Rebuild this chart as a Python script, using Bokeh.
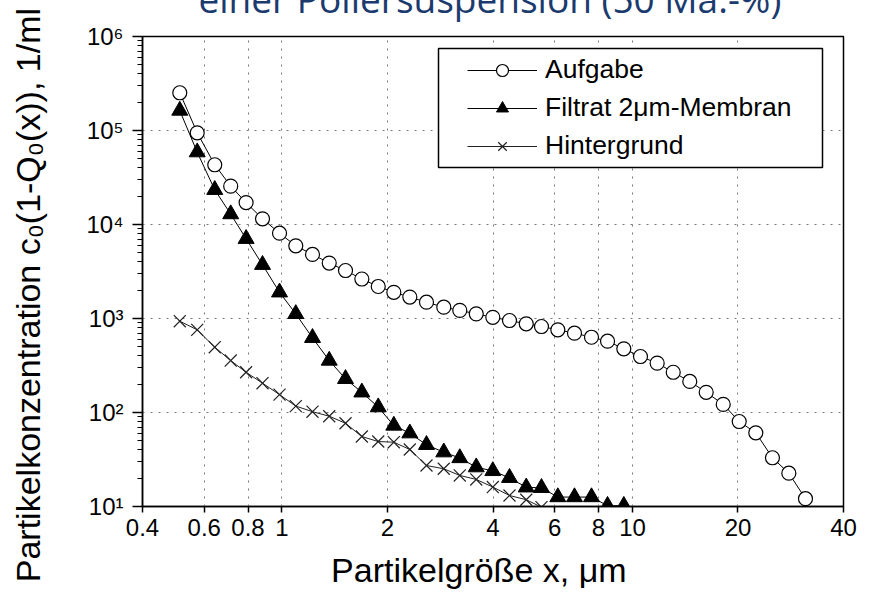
from bokeh.plotting import figure
from bokeh.models import (FixedTicker, CustomJSTickFormatter, Legend,
                          LegendItem, BoxAnnotation)
from bokeh.embed import file_html
from bokeh.resources import INLINE

# Particle size classes (µm)
size_um = [0.511, 0.573, 0.643, 0.714, 0.790, 0.880, 0.984, 1.095, 1.222, 1.364,
           1.518, 1.690, 1.882, 2.085, 2.316, 2.584, 2.895, 3.216, 3.583, 3.995,
           4.458, 4.976, 5.500, 6.124, 6.832, 7.640, 8.489, 9.447, 10.54, 11.76,
           13.07, 14.57, 16.23, 18.15, 20.16, 22.48, 25.08, 27.93, 31.16]

# Cumulative particle concentration c0(1-Q0(x)) in 1/ml
aufgabe = [2.52e5, 9.45e4, 4.32e4, 2.56e4, 1.71e4, 1.15e4, 8080, 5930, 4800, 3890,
           3240, 2630, 2190, 1900, 1690, 1490, 1320, 1220, 1120, 1030,
           952, 878, 822, 758, 698, 632, 574, 476, 394, 335,
           268, 214, 164, 122, 80.2, 60.8, 33.0, 22.6, 12.1]

filtrat = [1.63e5, 5.88e4, 2.34e4, 1.29e4, 7050, 3730, 1900, 1120, 623, 357,
           228, 164, 114, 72.7, 60.2, 45.3, 37.8, 32.8, 26.2, 23.9,
           20.2, 16.0, 15.8, 12.6, 12.6, 12.6, 10.2, 10.2]

hintergrund = [936, 758, 495, 357, 268, 205, 155, 117, 102, 91.3,
               76.9, 55.5, 49.1, 48.3, 40.4, 27.3, 25.2, 21.4, 19.4, 16.1,
               13.1, 11.8, 9.83]

x_ticks = [0.4, 0.6, 0.8, 1, 2, 4, 6, 8, 10, 20, 40]
y_exponents = [1, 2, 3, 4, 5, 6]

series_names = ["Aufgabe", "Filtrat 2\u03bcm-Membran", "Hintergrund"]
title_text = "einer Poliersuspension (50 Ma.-%)"
# trailing no-break spaces shift the centred axis titles a little
x_title = "Partikelgr\u00f6\u00dfe x, \u03bcm" + "\u00a0" * 3
y_title = "Partikelkonzentration c\u2080(1-Q\u2080(x)), 1/ml" + "\u00a0" * 5

FONT = "Liberation Sans"
TOP_CUT = 44   # the page starts this many pixels below the top of the canvas

p = figure(width=873, height=595 + TOP_CUT, x_axis_type="log", y_axis_type="log",
           x_range=(0.4, 40), y_range=(10, 1e6),
           output_backend="svg", toolbar_location=None,
           min_border_left=142, min_border_right=30,
           min_border_top=36 + TOP_CUT, min_border_bottom=89)
p.styles = {"margin-top": f"-{TOP_CUT}px"}
p.background_fill_color = "white"
p.border_fill_color = "white"
p.outline_line_color = "black"
p.outline_line_width = 1.5
p.outline_line_alpha = 1.0

# title, partly above the page edge
p.title.text = title_text
p.title.align = "left"
p.title.offset = 56
p.title.vertical_align = "bottom"
p.title.standoff = 25
p.title.text_font = "Open Sans"
p.title.text_font_size = "37px"
p.title.text_font_style = "normal"
p.title.text_color = "#1b3b6f"

# x axis: labelled ticks at 0.4 ... 40
xa = p.xaxis[0]
xa.ticker = FixedTicker(ticks=x_ticks, minor_ticks=[])
xa.formatter = CustomJSTickFormatter(code="return String(tick);")
xa.axis_line_width = 1.5
xa.axis_line_color = "black"
xa.major_tick_out = 6
xa.major_tick_in = 0
xa.major_tick_line_width = 1.5
xa.minor_tick_out = 0
xa.minor_tick_in = 0
xa.major_label_standoff = 6
xa.major_label_text_font = FONT
xa.major_label_text_font_size = "24px"
xa.major_label_text_color = "black"
xa.axis_label = x_title
xa.axis_label_standoff = 12
xa.axis_label_text_font = FONT
xa.axis_label_text_font_size = "34px"
xa.axis_label_text_font_style = "normal"
xa.axis_label_text_color = "black"

# y axis: decades as 10 with superscript exponent, 2..9 minor ticks
ya = p.yaxis[0]
minor = [m * 10 ** k for k in y_exponents[:-1] for m in range(2, 10)]
ya.ticker = FixedTicker(ticks=[10 ** k for k in y_exponents], minor_ticks=minor)
ya.formatter = CustomJSTickFormatter(code="""
const sup = ["\u2070", "\u00b9", "\u00b2", "\u00b3", "\u2074", "\u2075", "\u2076",
             "\u2077", "\u2078", "\u2079"];
const e = Math.round(Math.log10(tick));
return "10" + sup[e];
""")
ya.axis_line_width = 1.5
ya.axis_line_color = "black"
ya.major_tick_out = 10
ya.major_tick_in = 0
ya.major_tick_line_width = 1.5
ya.minor_tick_out = 5
ya.minor_tick_in = 0
ya.minor_tick_line_width = 1
ya.major_label_standoff = 9
ya.major_label_text_font = FONT
ya.major_label_text_font_size = "24px"
ya.major_label_text_color = "black"
ya.axis_label = y_title
ya.axis_label_standoff = 36
ya.axis_label_text_font = FONT
ya.axis_label_text_font_size = "34px"
ya.axis_label_text_font_style = "normal"
ya.axis_label_text_color = "black"

for g in (p.xgrid[0], p.ygrid[0]):
    g.grid_line_color = "#777777"
    g.grid_line_dash = "2 6"
    g.grid_line_width = 1

# data series
n_f = len(filtrat)
n_h = len(hintergrund)
l1 = p.line(size_um, aufgabe, line_color="black", line_width=1)
s1 = p.scatter(size_um, aufgabe, marker="circle", size=14,
               fill_color="white", line_color="black", line_width=1.2)
l2 = p.line(size_um[:n_f], filtrat, line_color="black", line_width=1)
s2 = p.scatter(size_um[:n_f], filtrat, marker="triangle", size=16,
               fill_color="black", line_color="black", line_width=1)
l3 = p.line(size_um[:n_h], hintergrund, line_color="#222222", line_width=1)
s3 = p.scatter(size_um[:n_h], hintergrund, marker="x", size=17,
               line_color="#222222", line_width=1.2)

# legend frame and entries
box = BoxAnnotation(left=296, right=680, bottom=339, top=458,
                    left_units="screen", right_units="screen",
                    bottom_units="screen", top_units="screen",
                    fill_color="white", fill_alpha=1.0,
                    line_color="black", line_width=1.5, line_alpha=1.0)
p.add_layout(box)

legend = Legend(items=[LegendItem(label=series_names[0], renderers=[l1, s1]),
                       LegendItem(label=series_names[1], renderers=[l2, s2]),
                       LegendItem(label=series_names[2], renderers=[l3, s3])],
                location=(325, 345), margin=0, padding=0, spacing=7,
                glyph_width=70, glyph_height=30, label_height=30,
                label_standoff=8,
                label_text_font=FONT, label_text_font_size="26.5px",
                label_text_color="black",
                border_line_alpha=0, background_fill_alpha=0)
p.add_layout(legend)

open("out.html", "w").write(file_html(p, INLINE))
